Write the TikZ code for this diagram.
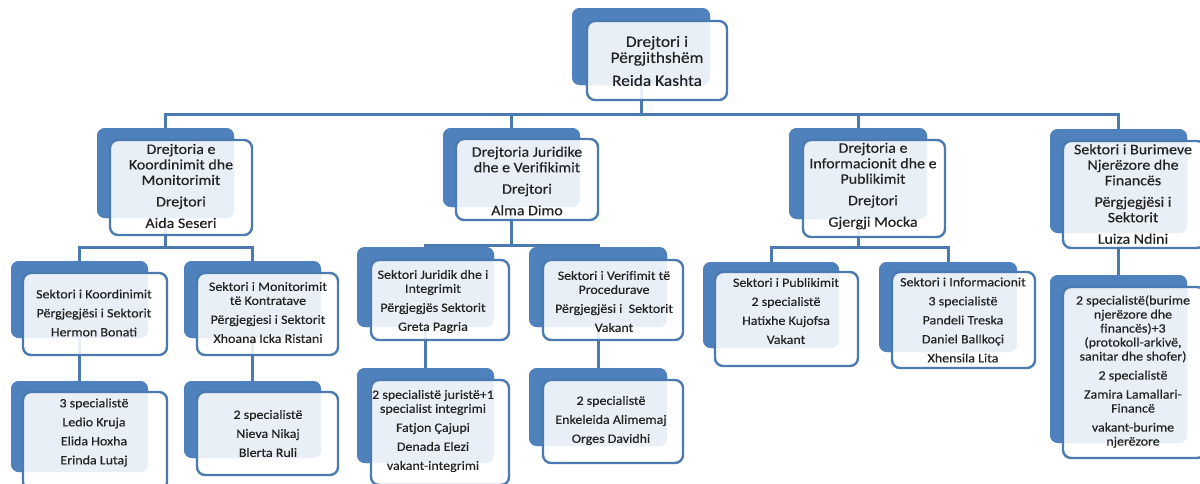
\documentclass[tikz,border=0pt]{standalone}
\usepackage{fontspec}
\setmainfont{Carlito}[FakeStretch=1.1, FakeBold=0.35]
\definecolor{backblue}{HTML}{4F81BD}
\definecolor{lineblue}{HTML}{4A7AB0}
\definecolor{txtc}{HTML}{222222}
\begin{document}
\begin{tikzpicture}[x=1pt,y=-1pt,
  back/.style={fill=backblue, rounded corners=8pt, anchor=north west, inner sep=0pt, outer sep=0pt},
  front/.style={draw=lineblue, line width=2.4pt, fill=white, fill opacity=0.88, rounded corners=8pt, anchor=north west, inner sep=0pt, outer sep=0pt},
  conn/.style={draw=lineblue, line width=3pt},
  ttop/.style={text=txtc, align=center, inner sep=0pt, font=\fontsize{15.8}{16}\selectfont},
  tmid/.style={text=txtc, align=center, inner sep=0pt, font=\fontsize{14.5}{15.5}\selectfont},
  tlow/.style={text=txtc, align=center, inner sep=0pt, font=\fontsize{12.7}{14}\selectfont}]
\useasboundingbox (0,0) rectangle (1200,483);
\clip (0,0) rectangle (1200,483);

% back boxes (named for connectors)
\node[back, minimum width=138pt, minimum height=77pt] (Tb) at (572,8) {};
\node[back, minimum width=137pt, minimum height=90pt] (Ab) at (97,128) {};
\node[back, minimum width=137pt, minimum height=79pt] (Bb) at (443,128) {};
\node[back, minimum width=138pt, minimum height=91pt] (Eb) at (789,128) {};
\node[back, minimum width=137pt, minimum height=104pt] (Fb) at (1050,129) {};
\node[back, minimum width=137pt, minimum height=77pt] (C1b) at (11,261) {};
\node[back, minimum width=137pt, minimum height=77pt] (C2b) at (184,261) {};
\node[back, minimum width=137pt, minimum height=80pt] (B1b) at (357,247) {};
\node[back, minimum width=138pt, minimum height=80pt] (B2b) at (529,247) {};
\node[back, minimum width=136pt, minimum height=86pt] (E1b) at (703,262) {};
\node[back, minimum width=138pt, minimum height=90pt] (E2b) at (879,262) {};
\node[back, minimum width=137pt, minimum height=91pt] (D1b) at (11,381) {};
\node[back, minimum width=137pt, minimum height=77pt] (D2b) at (184,381) {};
\node[back, minimum width=137pt, minimum height=95pt] (B3b) at (357,368) {};
\node[back, minimum width=138pt, minimum height=78pt] (B4b) at (529,368) {};
\node[back, minimum width=137pt, minimum height=168pt] (F1b) at (1050,275) {};

% connectors
\coordinate (bus) at (0,114);
\coordinate (busA) at (0,247);
\coordinate (busB) at (0,245);
\coordinate (busE) at (0,247);
\draw[conn] (Tb.south) -- (Tb.south |- bus);
\draw[conn] (Ab.north) -- (Ab.north |- bus) -- (Fb.north |- bus) -- (Fb.north);
\draw[conn] (Bb.north) -- (Bb.north |- bus);
\draw[conn] (Eb.north) -- (Eb.north |- bus);
\draw[conn] (Ab.south) -- (Ab.south |- busA);
\draw[conn] (C1b.north) -- (C1b.north |- busA) -- (C2b.north |- busA) -- (C2b.north);
\draw[conn] (Bb.south) -- (Bb.south |- busB);
\draw[conn] (B1b.north) -- (B1b.north |- busB) -- (B2b.north |- busB) -- (B2b.north);
\draw[conn] (Eb.south) -- (Eb.south |- busE);
\draw[conn] (E1b.north) -- (E1b.north |- busE) -- (E2b.north |- busE) -- (E2b.north);
\draw[conn] (Fb.south) -- (F1b.north);
\draw[conn] (C1b.south) -- (D1b.north);
\draw[conn] (C2b.south) -- (D2b.north);
\draw[conn] (B1b.south) -- (B3b.north);
\draw[conn] (B2b.south) -- (B4b.north);

% redraw back boxes above connector ends
\foreach \n in {Tb,Ab,Bb,Eb,Fb,C1b,C2b,B1b,B2b,E1b,E2b,D1b,D2b,B3b,B4b,F1b}
  \fill[backblue, rounded corners=8pt] (\n.north west) rectangle (\n.south east);

% front boxes
\node[front, minimum width=140pt, minimum height=79pt] (T) at (587,21) {};
\node[front, minimum width=142pt, minimum height=95pt] (A) at (110,140) {};
\node[front, minimum width=142pt, minimum height=81pt] (B) at (456,139) {};
\node[front, minimum width=142pt, minimum height=97pt] (E) at (803,140) {};
\node[front, minimum width=142pt, minimum height=107pt] (F) at (1063,141) {};
\node[front, minimum width=144pt, minimum height=82pt] (C1) at (23,273) {};
\node[front, minimum width=141pt, minimum height=82pt] (C2) at (197,273) {};
\node[front, minimum width=138pt, minimum height=80pt] (B1) at (371,260) {};
\node[front, minimum width=140pt, minimum height=80pt] (B2) at (543,260) {};
\node[front, minimum width=143pt, minimum height=94pt] (E1) at (715,272) {};
\node[front, minimum width=143pt, minimum height=96pt] (E2) at (892,272) {};
\node[front, minimum width=144pt, minimum height=98pt] (D1) at (23,392) {};
\node[front, minimum width=141pt, minimum height=83pt] (D2) at (197,392) {};
\node[front, minimum width=138pt, minimum height=105pt] (B3) at (371,380) {};
\node[front, minimum width=140pt, minimum height=83pt] (B4) at (543,380) {};
\node[front, minimum width=142pt, minimum height=171pt] (F1) at (1063,287) {};

% texts
\node[ttop] (tT) at (657,61) {Drejtori i\\Përgjithshëm\\[7pt]Reida Kashta};
\node[tmid] (tA) at (181,186) {Drejtoria e\\Koordinimit dhe\\Monitorimit\\[6pt]Drejtori\\[6pt]Aida Seseri};
\node[tmid] (tB) at (527,181) {Drejtoria Juridike\\dhe e Verifikimit\\[6pt]Drejtori\\[6pt]Alma Dimo};
\node[tmid] (tE) at (873,186) {Drejtoria e\\Informacionit dhe e\\Publikimit\\[6pt]Drejtori\\[6pt]Gjergji Mocka};
\node[tmid] (tF) at (1133,194) {Sektori i Burimeve\\Njerëzore dhe\\Financës\\[6pt]Përgjegjësi i\\Sektorit\\[6pt]Luiza Ndini};
\node[tlow] (tC1) at (94,313) {Sektori i Koordinimit\\[5pt]Përgjegjësi i Sektorit\\[5pt]Hermon Bonati};
\node[tlow] (tC2) at (268,312.5) {Sektori i Monitorimit\\të Kontratave\\[5pt]Përgjegjesi i Sektorit\\[5pt]Xhoana Icka Ristani};
\node[tlow] (tB1) at (433,301.5) {Sektori Juridik dhe i\\Integrimit\\[5pt]Përgjegjës Sektorit\\[5pt]Greta Pagria};
\node[tlow] (tB2) at (614,301.5) {Sektori i Verifimit të\\Procedurave\\[5pt]Përgjegjësi i \ Sektorit\\[5pt]Vakant};
\node[tlow] (tE1) at (786,311) {Sektori i Publikimit\\[5pt]2 specialistë\\[5pt]Hatixhe Kujofsa\\[5pt]Vakant};
\node[tlow] (tE2) at (963,320) {Sektori i Informacionit\\[5pt]3 specialistë\\[5pt]Pandeli Treska\\[5pt]Daniel Ballkoçi\\[5pt]Xhensila Lita};
\node[tlow] (tD1) at (94,432.5) {3 specialistë\\[5pt]Ledio Kruja\\[5pt]Elida Hoxha\\[5pt]Erinda Lutaj};
\node[tlow] (tD2) at (268,433.5) {2 specialistë\\[5pt]Nieva Nikaj\\[5pt]Blerta Ruli};
\node[tlow] (tB3) at (433,431) {2 specialistë juristë+1\\specialist integrimi\\[5pt]Fatjon Çajupi\\[5pt]Denada Elezi\\[5pt]vakant-integrimi};
\node[tlow] (tB4) at (611,420.5) {2 specialistë\\[5pt]Enkeleida Alimemaj\\[5pt]Orges Davidhi};
\node[tlow] (tF1) at (1133,371.5) {2 specialistë(burime\\njerëzore dhe\\financës)+3\\(protokoll-arkivë,\\sanitar dhe shofer)\\[5pt]2 specialistë\\[5pt]Zamira Lamallari-\\Financë\\[5pt]vakant-burime\\njerëzore};
\end{tikzpicture}
\end{document}
